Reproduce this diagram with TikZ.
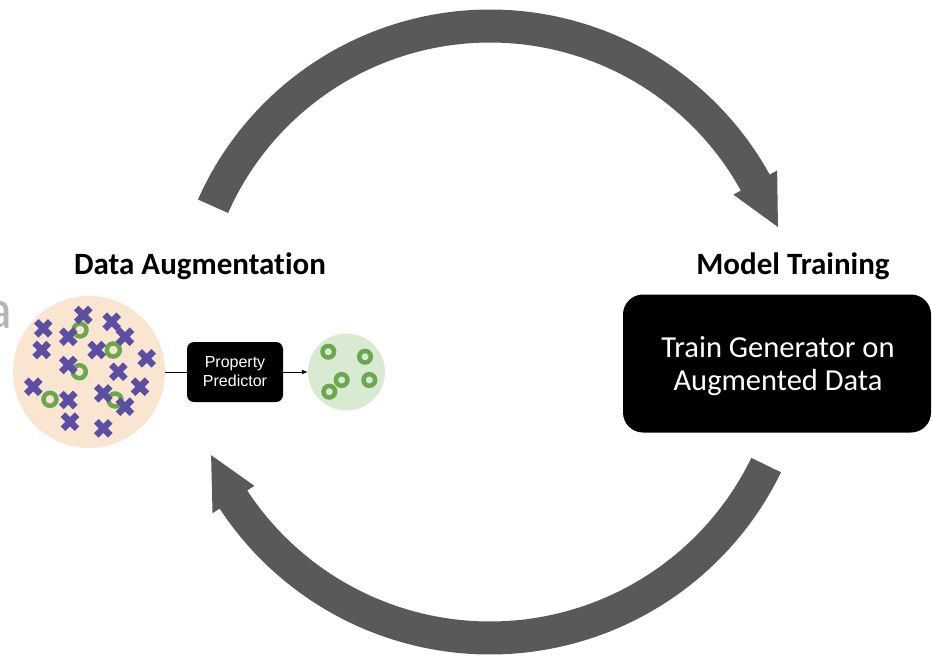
\documentclass[tikz,border=0pt]{standalone}
\usepackage{fontspec}
\setmainfont{Carlito}[Ligatures=NoCommon]
\newfontfamily\arialfont{Liberation Sans}
\usetikzlibrary{arrows.meta}

\definecolor{arrowgray}{RGB}{89,89,89}
\definecolor{poolbeige}{RGB}{250,230,208}
\definecolor{keepgreen}{RGB}{217,234,211}
\definecolor{crosspurple}{RGB}{91,78,163}
\definecolor{ringgreen}{RGB}{106,168,79}
\definecolor{ghostgray}{RGB}{180,180,180}

\begin{document}
\begin{tikzpicture}[x=1pt,y=-1pt,
  heading/.style={font=\fontsize{31}{34}\selectfont\bfseries, text=black, inner sep=0, anchor=base},
  pool/.style={circle, fill=poolbeige, minimum size=152pt, inner sep=0},
  keep/.style={circle, fill=keepgreen, minimum size=77pt, inner sep=0},
  predictor/.style={rectangle, rounded corners=7pt, fill=black, text=white,
    minimum width=96pt, minimum height=60pt, align=center, inner sep=0,
    font=\arialfont\fontsize{16}{19}\selectfont},
  trainbox/.style={rectangle, rounded corners=20pt, fill=black,
    minimum width=308pt, minimum height=138pt, inner sep=0},
  traintext/.style={text=white, align=center, inner sep=0,
    font=\fontsize{30.5}{33}\selectfont},
  link/.style={draw=black, line width=1pt},
  xmark/.style={draw=crosspurple, line width=6.5pt},
  ring/.style={draw=ringgreen, line width=4.5pt},
  smallring/.style={draw=ringgreen, line width=4.5pt},
  bigarrow/.style={fill=arrowgray},
]
\useasboundingbox (0,0) rectangle (932,656);
\clip (0,0) rectangle (932,656);

% partly visible letter at the left edge
\node[anchor=base east, inner sep=0, text=ghostgray,
      font=\fontsize{56}{60}\selectfont] (ghost) at (13,328) {a};

% upper cycle arrow (tail on the left, head on the right)
\begin{scope}[shift={(490,329)}]
  \fill[bigarrow] plot[domain=-156.1:-28.9, samples=90] (\x:319.5)
    -- (-28.9:328) -- (-19.5:305.5) -- (-28.9:278) -- (-28.9:286.5)
    -- plot[domain=-28.9:-156.1, samples=90] (\x:286.5) -- cycle;
\end{scope}

% lower cycle arrow (tail on the right, head on the left)
\begin{scope}[shift={(490,331)}]
  \fill[bigarrow] plot[domain=25.9:146.7, samples=90] (\x:323.5)
    -- (146.7:332) -- (156.0:305.3) -- (146.7:282) -- (146.7:290.5)
    -- plot[domain=146.7:25.9, samples=90] (\x:290.5) -- cycle;
\end{scope}

% headings
\node[heading] (augtitle) at (200,274) {Data Augmentation};
\node[heading] (traintitle) at (793,274) {Model Training};

% candidate pool
\node[pool] (pool) at (89,372) {};
\foreach \px/\py in {80/330, 113.3/350, 79.3/371.7, 50/399.3, 115/400}
  \draw[ring] (\px,\py) circle[radius=6.5];
\foreach \px/\py in {43.3/328.3, 83.3/315, 111.7/321.7, 68.3/336.7, 125/336.7,
    41.7/350, 96.7/350, 146.7/358.3, 68.3/365, 118.3/371.7, 33.3/386.7,
    140/386.7, 103.3/393.3, 68.3/400, 125/406.7, 70/421.7, 103.3/428.3}
  \draw[xmark, shift={(\px,\py)}] (-7,-7) -- (7,7) (-7,7) -- (7,-7);

% property predictor
\node[predictor] (predictor) at (235,372) {Property\\Predictor};

% kept samples
\node[keep] (keep) at (346.5,372) {};
\foreach \px/\py in {328.3/351.7, 365/356.7, 341.7/380, 369.3/380, 329.3/391.7}
  \draw[smallring] (\px,\py) circle[radius=5.8];

\draw[link] (pool) -- (predictor);
\draw[link, -{Latex[length=6pt,width=5pt]}] (predictor) -- (keep);

% training box
\node[trainbox] (train) at (777,363.5) {};
\node[traintext] (traintext) at (778,366) {Train Generator on\\Augmented Data};
\end{tikzpicture}
\end{document}
